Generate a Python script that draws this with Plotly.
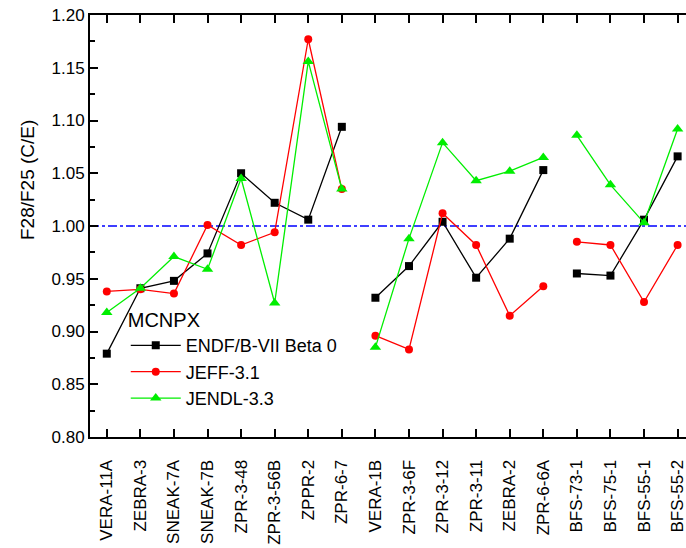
import plotly.graph_objects as go

categories = ["VERA-11A", "ZEBRA-3", "SNEAK-7A", "SNEAK-7B", "ZPR-3-48", "ZPR-3-56B",
              "ZPPR-2", "ZPR-6-7", "VERA-1B", "ZPR-3-6F", "ZPR-3-12", "ZPR-3-11",
              "ZEBRA-2", "ZPR-6-6A", "BFS-73-1", "BFS-75-1", "BFS-55-1", "BFS-55-2"]
group_sizes = [8, 6, 4]

endf = [0.879, 0.941, 0.948, 0.974, 1.050, 1.022, 1.006, 1.094,
        0.932, 0.962, 1.004, 0.951, 0.988, 1.053,
        0.955, 0.953, 1.006, 1.066]
jeff = [0.938, 0.940, 0.936, 1.001, 0.982, 0.994, 1.177, 1.035,
        0.896, 0.883, 1.012, 0.982, 0.915, 0.943,
        0.985, 0.982, 0.928, 0.982]
jendl = [0.918, 0.941, 0.971, 0.959, 1.045, 0.927, 1.156, 1.035,
         0.885, 0.988, 1.079, 1.043, 1.052, 1.065,
         1.086, 1.039, 1.003, 1.092]

series = [
    ("ENDF/B-VII Beta 0", endf, "black", "square", 8),
    ("JEFF-3.1", jeff, "red", "circle", 8),
    ("JENDL-3.3", jendl, "#00ee00", "triangle-up", 10),
]

fig = go.Figure()
for name, vals, col, sym, ms in series:
    start = 0
    for gi, n in enumerate(group_sizes):
        idx = list(range(start, start + n))
        fig.add_trace(go.Scatter(
            x=idx, y=[vals[i] for i in idx], mode="lines+markers",
            name=name, legendgroup=name, showlegend=(gi == 0),
            line=dict(color=col, width=1.3),
            marker=dict(color=col, symbol=sym, size=ms),
        ))
        start += n

fig.add_shape(type="line", xref="paper", yref="y", x0=0, x1=1, y0=1.0, y1=1.0,
              line=dict(color="blue", width=1.3, dash="dashdot"), layer="below")

fig.add_annotation(text="F28/F25 (C/E)", xref="paper", yref="paper",
                   x=-0.105, y=0.61, xanchor="center", yanchor="middle",
                   textangle=-90, showarrow=False, font=dict(size=19))

fig.update_layout(
    width=686, height=548,
    margin=dict(l=90, r=0, t=15, b=111),
    plot_bgcolor="white", paper_bgcolor="white",
    font=dict(family="Liberation Sans, Arial, sans-serif", size=17, color="black"),
    legend=dict(
        title=dict(text="MCNPX", font=dict(size=20)),
        x=0.06, y=0.322, xanchor="left", yanchor="top",
        bgcolor="rgba(0,0,0,0)", font=dict(size=18),
        itemwidth=50, tracegroupgap=0,
    ),
    xaxis=dict(
        range=[-0.5, 17.25], tickmode="array", tickvals=list(range(len(categories))),
        ticktext=categories, tickangle=-90, ticks="inside", ticklen=8, tickwidth=1.5,
        tickcolor="black", showline=True, linecolor="black", linewidth=2,
        mirror="ticks", showgrid=False, zeroline=False, ticklabelstandoff=14,
        ticklabeloverflow="allow", tickfont=dict(size=17),
    ),
    yaxis=dict(
        range=[0.8, 1.2], dtick=0.05, tickformat=".2f", ticks="inside", ticklen=8,
        tickwidth=1.5, tickcolor="black", showline=True, linecolor="black", linewidth=2,
        showgrid=False, zeroline=False,
        minor=dict(ticks="inside", ticklen=5, tickwidth=1.5, tickcolor="black", dtick=0.025),
        tickfont=dict(size=17),
    ),
)

fig.write_html("out.html")
